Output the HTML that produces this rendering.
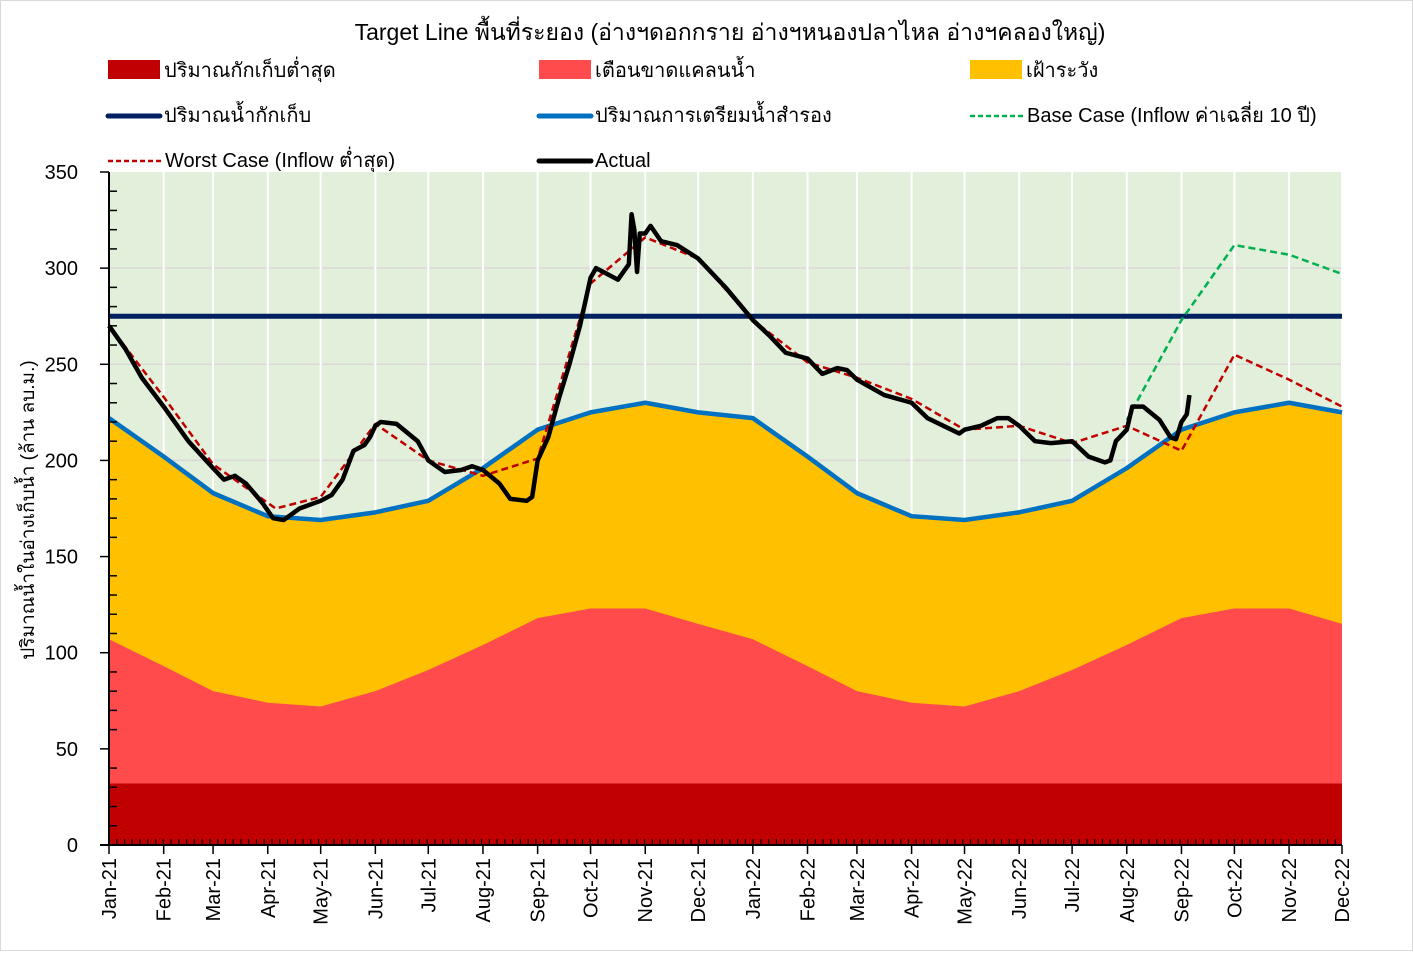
<!DOCTYPE html>
<html><head><meta charset="utf-8"><style>
body{margin:0;background:#fff;}
svg text{font-family:"Liberation Sans","Noto Sans CJK SC","WenQuanYi Zen Hei",sans-serif;}
</style></head><body>
<svg id="chart" width="1413" height="951" xmlns="http://www.w3.org/2000/svg">
<rect x="0.5" y="0.5" width="1412" height="950" fill="#fff" stroke="#d9d9d9"/>
<text x="730" y="40" font-size="23" text-anchor="middle" fill="#000">Target Line พื้นที่ระยอง (อ่างฯดอกกราย อ่างฯหนองปลาไหล อ่างฯคลองใหญ่)</text>
<g font-size="20">
<g><rect x="108" y="60" width="52" height="19" fill="#c00000"/><text x="164" y="77">ปริมาณกักเก็บต่ำสุด</text></g>
<g><rect x="539" y="60" width="52" height="19" fill="#ff4b4b"/><text x="595" y="77">เตือนขาดแคลนน้ำ</text></g>
<g><rect x="970" y="60" width="52" height="19" fill="#ffc000"/><text x="1026" y="77">เฝ้าระวัง</text></g>
<g><line x1="108" y1="116" x2="160" y2="116" stroke="#002060" stroke-width="5" stroke-linecap="round"/><text x="164" y="122">ปริมาณน้ำกักเก็บ</text></g>
<g><line x1="539" y1="116" x2="591" y2="116" stroke="#0070c0" stroke-width="5" stroke-linecap="round"/><text x="595" y="122">ปริมาณการเตรียมน้ำสำรอง</text></g>
<g><line x1="970" y1="116" x2="1024" y2="116" stroke="#00b050" stroke-width="2.5" stroke-dasharray="5,3"/><text x="1027" y="122">Base Case (Inflow ค่าเฉลี่ย 10 ปี)</text></g>
<g><line x1="108" y1="161" x2="162" y2="161" stroke="#c00000" stroke-width="2.5" stroke-dasharray="5,3"/><text x="165" y="167">Worst Case (Inflow ต่ำสุด)</text></g>
<g><line x1="539" y1="161" x2="591" y2="161" stroke="#000" stroke-width="5" stroke-linecap="round"/><text x="595" y="167">Actual</text></g>
</g>
<g id="plot"></g>
</svg>
<script>
const months = ["Jan-21","Feb-21","Mar-21","Apr-21","May-21","Jun-21","Jul-21","Aug-21","Sep-21","Oct-21","Nov-21","Dec-21","Jan-22","Feb-22","Mar-22","Apr-22","May-22","Jun-22","Jul-22","Aug-22","Sep-22","Oct-22","Nov-22","Dec-22"];
const monthDays = [0,31,59,90,120,151,181,212,243,273,304,334,365,396,424,455,485,516,546,577,608,638,669,699];
const minStorage = [32,32,32,32,32,32,32,32,32,32,32,32,32,32,32,32,32,32,32,32,32,32,32,32];
const warnLevel = [107,93,80,74,72,80,91,104,118,123,123,115,107,93,80,74,72,80,91,104,118,123,123,115];
const reserve = [222,202,183,171,169,173,179,196,216,225,230,225,222,202,183,171,169,173,179,196,216,225,230,225];
const target = 275;
const worstM = [0,1,2,3.15,4,5,6,7,8,9,10,11,12,13,14,15,16,17,18,19,20,21,22,23];
const worstV = [270,233,198,175,181,219,200,192,201,292,316,305,273,251,243,232,216,218,209,218,205,255,242,228];
const baseM = [19,20,21,22,23];
const baseV = [221,273,312,307,297];
const actM = [0,0.3,0.6,1,1.5,2,2.2,2.4,2.6,2.9,3.1,3.3,3.6,4,4.2,4.4,4.6,4.8,4.9,5,5.1,5.4,5.8,6,6.3,6.6,6.8,7,7.3,7.5,7.8,7.9,8,8.2,8.4,8.6,8.8,9,9.1,9.3,9.5,9.6,9.7,9.75,9.8,9.85,9.9,10,10.1,10.3,10.6,11,11.5,12,12.3,12.6,13,13.3,13.6,13.8,14,14.5,15,15.3,15.6,15.9,16,16.3,16.6,16.8,17,17.3,17.6,18,18.3,18.6,18.7,18.8,19,19.1,19.3,19.6,19.8,19.9,20,20.1,20.15];
const actV = [270,258,243,228,210,196,190,192,188,178,170,169,175,179,182,190,205,208,212,218,220,219,210,200,194,195,197,195,188,180,179,181,200,212,232,250,270,295,300,297,294,298,302,328,320,298,318,318,322,314,312,305,290,273,265,256,253,245,248,247,242,234,230,222,218,214,216,218,222,222,218,210,209,210,202,199,200,210,216,228,228,221,212,211,220,224,234];
const yTicks = [0,50,100,150,200,250,300,350];

const X0=109, X1=1342, Y0=845, Y1=172;
function xDay(d){return X0+d*(X1-X0)/699;}
function xM(m){const i=Math.min(Math.floor(m),22);const f=m-i;return xDay(monthDays[i]+f*(monthDays[i+1]-monthDays[i]));}
function y(v){return Y0-v*(Y0-Y1)/350;}
const NS="http://www.w3.org/2000/svg";
const plot=document.getElementById('plot');
function mk(tag,attrs,parent){const e=document.createElementNS(NS,tag);for(const k in attrs)e.setAttribute(k,attrs[k]);(parent||plot).appendChild(e);return e;}

let bg=mk('rect',{x:X0,y:Y1,width:X1-X0,height:Y0-Y1,fill:'#e2efda'});


yTicks.forEach(v=>{if(v>0&&v<350){let g=mk('line',{x1:X0,x2:X1,y1:y(v),y2:y(v),stroke:'#d9d9d9','stroke-width':1.5});

}});
months.forEach((m,i)=>{if(i>0){let g=mk('line',{x1:xM(i),x2:xM(i),y1:Y1,y2:Y0,stroke:'#fff','stroke-width':2});

}});

function area(top,bot,fill,name){
  let d='M'+months.map((m,i)=>xM(i)+','+y(top[i])).join(' L');
  for(let i=months.length-1;i>=0;i--)d+=' L'+xM(i)+','+y(bot?bot[i]:0);
  let p=mk('path',{d:d+'Z',fill:fill});
  
  
}
area(reserve,null,'#ffc000','watch-area');
area(warnLevel,null,'#ff4b4b','shortage-warning-area');
area(minStorage,null,'#c00000','min-storage-area');

function line(ms,vs,stroke,w,dash,name){
  let p=mk('polyline',{points:ms.map((m,i)=>xM(m)+','+y(vs[i])).join(' '),fill:'none',stroke:stroke,'stroke-width':w,'stroke-linejoin':'round'});
  if(dash)p.setAttribute('stroke-dasharray',dash);
  
  
}
line(months.map((m,i)=>i),reserve,'#0070c0',4.5,null,'reserve-line');
let t=mk('line',{x1:X0,x2:X1,y1:y(target),y2:y(target),stroke:'#002060','stroke-width':5});


line(baseM,baseV,'#00b050',2.5,'7,4','base-case-line');
line(worstM,worstV,'#c00000',2.5,'7,4','worst-case-line');
line(actM,actV,'#000',4.5,null,'actual-line');

let ya=mk('line',{x1:X0,x2:X0,y1:Y1,y2:Y0+1,stroke:'#000','stroke-width':2});


let xa=mk('line',{x1:X0-9,x2:X1,y1:Y0,y2:Y0,stroke:'#000','stroke-width':2});


for(let v=0;v<=350;v+=10){
  if(v%50===0){let k=mk('line',{x1:X0-9,x2:X0,y1:y(v),y2:y(v),stroke:'#000','stroke-width':1.5});
  
  }
  else{let k=mk('line',{x1:X0,x2:X0+8,y1:y(v),y2:y(v),stroke:'#000','stroke-width':1.5});
  
  }
}
yTicks.forEach(v=>{let tx=mk('text',{x:78,y:y(v)+7,'font-size':20,'text-anchor':'end',fill:'#000'});tx.textContent=v;

});
for(let d=0;d<=699;d+=4.4){let k=mk('line',{x1:xDay(d),x2:xDay(d),y1:Y0-6,y2:Y0,stroke:'#000','stroke-width':1.2});

}
months.forEach((m,i)=>{
  let k=mk('line',{x1:xM(i),x2:xM(i),y1:Y0,y2:Y0+9,stroke:'#000','stroke-width':1.5});
  
  
  let tx=mk('text',{x:0,y:0,'font-size':20,'text-anchor':'end',fill:'#000',transform:`translate(${xM(i)+7},${Y0+13}) rotate(-90)`});
  tx.textContent=m;
  
  
});
let yt=mk('text',{x:0,y:0,'font-size':19,'text-anchor':'middle',fill:'#000',transform:'translate(34,510) rotate(-90)'});
yt.textContent='ปริมาณน้ำในอ่างเก็บน้ำ (ล้าน ลบ.ม.)';


</script>
</body></html>
